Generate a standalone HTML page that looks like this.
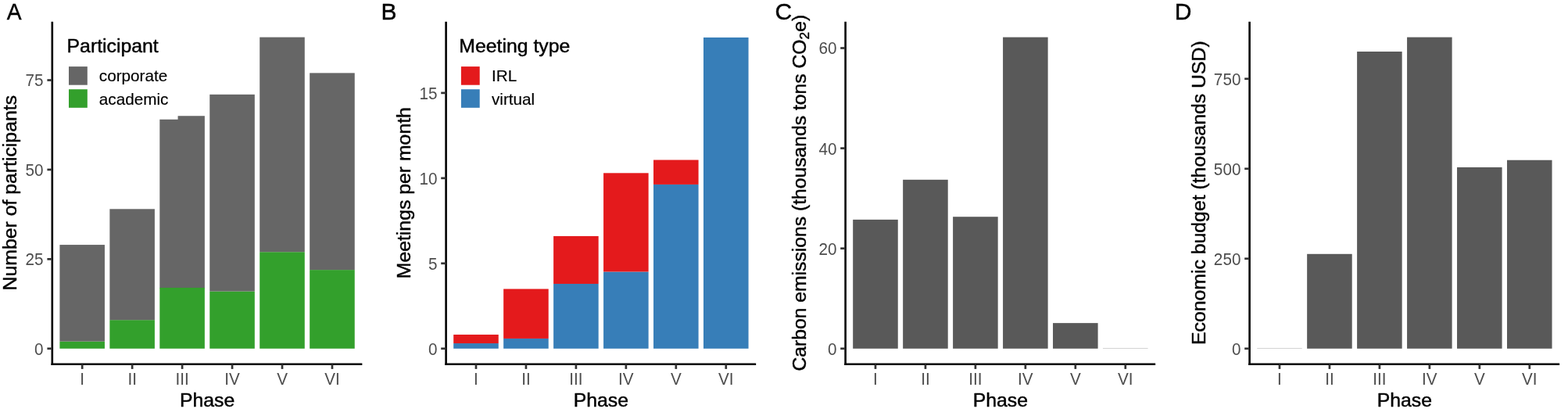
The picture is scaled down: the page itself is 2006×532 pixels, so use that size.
<!DOCTYPE html>
<html><head><meta charset="utf-8"><style>
html,body{margin:0;padding:0;background:#fff;}
svg{display:block;font-family:"Liberation Sans",Arial,Helvetica,sans-serif;}
text{stroke-linejoin:round;}
text[fill="#000"]{stroke:#000;stroke-width:0.45px;}
text[font-size="20.7"][fill="#000"]{stroke-width:0.15px;}
</style></head><body>
<svg width="2006" height="532" viewBox="0 0 2006 532">
<rect width="2006" height="532" fill="#fff"/>
<rect x="76.39" y="436.65" width="57.56" height="9.15" fill="#33A02C"/>
<rect x="76.39" y="313.07" width="57.56" height="123.58" fill="#666666"/>
<rect x="140.35" y="409.18" width="57.56" height="36.62" fill="#33A02C"/>
<rect x="140.35" y="267.30" width="57.56" height="141.89" fill="#666666"/>
<path d="M204.31,368.49 V152.87 H227.56 V148.29 H261.88 V368.49 Z" fill="#666666"/>
<rect x="204.31" y="367.99" width="57.56" height="77.81" fill="#33A02C"/>
<rect x="268.27" y="372.57" width="57.56" height="73.23" fill="#33A02C"/>
<rect x="268.27" y="120.83" width="57.56" height="251.74" fill="#666666"/>
<rect x="332.23" y="322.22" width="57.56" height="123.58" fill="#33A02C"/>
<rect x="332.23" y="47.60" width="57.56" height="274.62" fill="#666666"/>
<rect x="396.19" y="345.11" width="57.56" height="100.69" fill="#33A02C"/>
<rect x="396.19" y="93.37" width="57.56" height="251.74" fill="#666666"/>
<line x1="66.80" y1="27.70" x2="66.80" y2="467.00" stroke="#000" stroke-width="2.6" stroke-linecap="butt"/>
<line x1="65.50" y1="465.70" x2="463.35" y2="465.70" stroke="#000" stroke-width="2.6" stroke-linecap="butt"/>
<line x1="60.40" y1="445.80" x2="66.80" y2="445.80" stroke="#333333" stroke-width="2.7" stroke-linecap="butt"/>
<text font-size="20.7" fill="#4D4D4D" text-anchor="end" transform="translate(55.60,453.75) scale(1,1.03)">0</text>
<line x1="60.40" y1="331.37" x2="66.80" y2="331.37" stroke="#333333" stroke-width="2.7" stroke-linecap="butt"/>
<text font-size="20.7" fill="#4D4D4D" text-anchor="end" transform="translate(55.60,339.32) scale(1,1.03)">25</text>
<line x1="60.40" y1="216.95" x2="66.80" y2="216.95" stroke="#333333" stroke-width="2.7" stroke-linecap="butt"/>
<text font-size="20.7" fill="#4D4D4D" text-anchor="end" transform="translate(55.60,224.90) scale(1,1.03)">50</text>
<line x1="60.40" y1="102.52" x2="66.80" y2="102.52" stroke="#333333" stroke-width="2.7" stroke-linecap="butt"/>
<text font-size="20.7" fill="#4D4D4D" text-anchor="end" transform="translate(55.60,110.47) scale(1,1.03)">75</text>
<line x1="105.18" y1="465.70" x2="105.18" y2="471.90" stroke="#333333" stroke-width="2.7" stroke-linecap="butt"/>
<text font-size="20.7" fill="#4D4D4D" text-anchor="middle" transform="translate(105.18,491.75) scale(1,1.035)">I</text>
<line x1="169.14" y1="465.70" x2="169.14" y2="471.90" stroke="#333333" stroke-width="2.7" stroke-linecap="butt"/>
<text font-size="20.7" fill="#4D4D4D" text-anchor="middle" transform="translate(169.14,491.75) scale(1,1.035)">II</text>
<line x1="233.10" y1="465.70" x2="233.10" y2="471.90" stroke="#333333" stroke-width="2.7" stroke-linecap="butt"/>
<text font-size="20.7" fill="#4D4D4D" text-anchor="middle" transform="translate(233.10,491.75) scale(1,1.035)">III</text>
<line x1="297.06" y1="465.70" x2="297.06" y2="471.90" stroke="#333333" stroke-width="2.7" stroke-linecap="butt"/>
<text font-size="20.7" fill="#4D4D4D" text-anchor="middle" transform="translate(297.06,491.75) scale(1,1.035)">IV</text>
<line x1="361.02" y1="465.70" x2="361.02" y2="471.90" stroke="#333333" stroke-width="2.7" stroke-linecap="butt"/>
<text font-size="20.7" fill="#4D4D4D" text-anchor="middle" transform="translate(361.02,491.75) scale(1,1.035)">V</text>
<line x1="424.98" y1="465.70" x2="424.98" y2="471.90" stroke="#333333" stroke-width="2.7" stroke-linecap="butt"/>
<text font-size="20.7" fill="#4D4D4D" text-anchor="middle" transform="translate(424.98,491.75) scale(1,1.035)">VI</text>
<text x="265.08" y="520.00" font-size="24.8" fill="#000" text-anchor="middle" >Phase</text>
<text x="0.00" y="0.00" font-size="24.8" fill="#000" text-anchor="middle" transform="translate(21.00,246.70) rotate(-90)">Number of participants</text>
<text font-size="30" fill="#000" transform="translate(8.80,24.90) scale(0.94,1)">A</text>
<rect x="580.19" y="439.04" width="57.56" height="6.76" fill="#377EB8"/>
<rect x="580.19" y="427.93" width="57.56" height="11.12" fill="#E41A1C"/>
<rect x="644.15" y="432.94" width="57.56" height="12.86" fill="#377EB8"/>
<rect x="644.15" y="369.52" width="57.56" height="63.42" fill="#E41A1C"/>
<rect x="708.11" y="362.98" width="57.56" height="82.82" fill="#377EB8"/>
<rect x="708.11" y="301.95" width="57.56" height="61.03" fill="#E41A1C"/>
<rect x="772.07" y="347.50" width="57.56" height="98.30" fill="#377EB8"/>
<rect x="772.07" y="221.31" width="57.56" height="126.19" fill="#E41A1C"/>
<rect x="836.03" y="235.91" width="57.56" height="209.89" fill="#377EB8"/>
<rect x="836.03" y="204.53" width="57.56" height="31.39" fill="#E41A1C"/>
<rect x="899.99" y="47.93" width="57.56" height="397.87" fill="#377EB8"/>
<line x1="570.60" y1="27.70" x2="570.60" y2="467.00" stroke="#000" stroke-width="2.6" stroke-linecap="butt"/>
<line x1="569.30" y1="465.70" x2="967.15" y2="465.70" stroke="#000" stroke-width="2.6" stroke-linecap="butt"/>
<line x1="564.20" y1="445.80" x2="570.60" y2="445.80" stroke="#333333" stroke-width="2.7" stroke-linecap="butt"/>
<text font-size="20.7" fill="#4D4D4D" text-anchor="end" transform="translate(559.40,453.75) scale(1,1.03)">0</text>
<line x1="564.20" y1="336.82" x2="570.60" y2="336.82" stroke="#333333" stroke-width="2.7" stroke-linecap="butt"/>
<text font-size="20.7" fill="#4D4D4D" text-anchor="end" transform="translate(559.40,344.77) scale(1,1.03)">5</text>
<line x1="564.20" y1="227.85" x2="570.60" y2="227.85" stroke="#333333" stroke-width="2.7" stroke-linecap="butt"/>
<text font-size="20.7" fill="#4D4D4D" text-anchor="end" transform="translate(559.40,235.80) scale(1,1.03)">10</text>
<line x1="564.20" y1="118.87" x2="570.60" y2="118.87" stroke="#333333" stroke-width="2.7" stroke-linecap="butt"/>
<text font-size="20.7" fill="#4D4D4D" text-anchor="end" transform="translate(559.40,126.82) scale(1,1.03)">15</text>
<line x1="608.98" y1="465.70" x2="608.98" y2="471.90" stroke="#333333" stroke-width="2.7" stroke-linecap="butt"/>
<text font-size="20.7" fill="#4D4D4D" text-anchor="middle" transform="translate(608.98,491.75) scale(1,1.035)">I</text>
<line x1="672.94" y1="465.70" x2="672.94" y2="471.90" stroke="#333333" stroke-width="2.7" stroke-linecap="butt"/>
<text font-size="20.7" fill="#4D4D4D" text-anchor="middle" transform="translate(672.94,491.75) scale(1,1.035)">II</text>
<line x1="736.90" y1="465.70" x2="736.90" y2="471.90" stroke="#333333" stroke-width="2.7" stroke-linecap="butt"/>
<text font-size="20.7" fill="#4D4D4D" text-anchor="middle" transform="translate(736.90,491.75) scale(1,1.035)">III</text>
<line x1="800.86" y1="465.70" x2="800.86" y2="471.90" stroke="#333333" stroke-width="2.7" stroke-linecap="butt"/>
<text font-size="20.7" fill="#4D4D4D" text-anchor="middle" transform="translate(800.86,491.75) scale(1,1.035)">IV</text>
<line x1="864.82" y1="465.70" x2="864.82" y2="471.90" stroke="#333333" stroke-width="2.7" stroke-linecap="butt"/>
<text font-size="20.7" fill="#4D4D4D" text-anchor="middle" transform="translate(864.82,491.75) scale(1,1.035)">V</text>
<line x1="928.78" y1="465.70" x2="928.78" y2="471.90" stroke="#333333" stroke-width="2.7" stroke-linecap="butt"/>
<text font-size="20.7" fill="#4D4D4D" text-anchor="middle" transform="translate(928.78,491.75) scale(1,1.035)">VI</text>
<text x="768.88" y="520.00" font-size="24.8" fill="#000" text-anchor="middle" >Phase</text>
<text x="0.00" y="0.00" font-size="24.8" fill="#000" text-anchor="middle" transform="translate(525.00,246.70) rotate(-90)">Meetings per month</text>
<text x="487.40" y="24.90" font-size="30" fill="#000" text-anchor="start" >B</text>
<rect x="1091.19" y="280.87" width="57.56" height="164.93" fill="#595959"/>
<rect x="1155.15" y="229.82" width="57.56" height="215.98" fill="#595959"/>
<rect x="1219.11" y="277.22" width="57.56" height="168.58" fill="#595959"/>
<rect x="1283.07" y="47.60" width="57.56" height="398.20" fill="#595959"/>
<rect x="1347.03" y="413.13" width="57.56" height="32.67" fill="#595959"/>
<line x1="1410.99" y1="445.50" x2="1468.56" y2="445.50" stroke="#c8c8c8" stroke-width="0.8"/>
<line x1="1081.60" y1="27.70" x2="1081.60" y2="467.00" stroke="#000" stroke-width="2.6" stroke-linecap="butt"/>
<line x1="1080.30" y1="465.70" x2="1478.15" y2="465.70" stroke="#000" stroke-width="2.6" stroke-linecap="butt"/>
<line x1="1075.20" y1="445.80" x2="1081.60" y2="445.80" stroke="#333333" stroke-width="2.7" stroke-linecap="butt"/>
<text font-size="20.7" fill="#4D4D4D" text-anchor="end" transform="translate(1070.40,453.75) scale(1,1.03)">0</text>
<line x1="1075.20" y1="317.70" x2="1081.60" y2="317.70" stroke="#333333" stroke-width="2.7" stroke-linecap="butt"/>
<text font-size="20.7" fill="#4D4D4D" text-anchor="end" transform="translate(1070.40,325.65) scale(1,1.03)">20</text>
<line x1="1075.20" y1="189.60" x2="1081.60" y2="189.60" stroke="#333333" stroke-width="2.7" stroke-linecap="butt"/>
<text font-size="20.7" fill="#4D4D4D" text-anchor="end" transform="translate(1070.40,197.55) scale(1,1.03)">40</text>
<line x1="1075.20" y1="61.50" x2="1081.60" y2="61.50" stroke="#333333" stroke-width="2.7" stroke-linecap="butt"/>
<text font-size="20.7" fill="#4D4D4D" text-anchor="end" transform="translate(1070.40,69.45) scale(1,1.03)">60</text>
<line x1="1119.98" y1="465.70" x2="1119.98" y2="471.90" stroke="#333333" stroke-width="2.7" stroke-linecap="butt"/>
<text font-size="20.7" fill="#4D4D4D" text-anchor="middle" transform="translate(1119.98,491.75) scale(1,1.035)">I</text>
<line x1="1183.94" y1="465.70" x2="1183.94" y2="471.90" stroke="#333333" stroke-width="2.7" stroke-linecap="butt"/>
<text font-size="20.7" fill="#4D4D4D" text-anchor="middle" transform="translate(1183.94,491.75) scale(1,1.035)">II</text>
<line x1="1247.90" y1="465.70" x2="1247.90" y2="471.90" stroke="#333333" stroke-width="2.7" stroke-linecap="butt"/>
<text font-size="20.7" fill="#4D4D4D" text-anchor="middle" transform="translate(1247.90,491.75) scale(1,1.035)">III</text>
<line x1="1311.86" y1="465.70" x2="1311.86" y2="471.90" stroke="#333333" stroke-width="2.7" stroke-linecap="butt"/>
<text font-size="20.7" fill="#4D4D4D" text-anchor="middle" transform="translate(1311.86,491.75) scale(1,1.035)">IV</text>
<line x1="1375.82" y1="465.70" x2="1375.82" y2="471.90" stroke="#333333" stroke-width="2.7" stroke-linecap="butt"/>
<text font-size="20.7" fill="#4D4D4D" text-anchor="middle" transform="translate(1375.82,491.75) scale(1,1.035)">V</text>
<line x1="1439.78" y1="465.70" x2="1439.78" y2="471.90" stroke="#333333" stroke-width="2.7" stroke-linecap="butt"/>
<text font-size="20.7" fill="#4D4D4D" text-anchor="middle" transform="translate(1439.78,491.75) scale(1,1.035)">VI</text>
<text x="1279.88" y="520.00" font-size="24.8" fill="#000" text-anchor="middle" >Phase</text>
<text font-size="24.7" fill="#000" text-anchor="middle" transform="translate(1030.70,246.70) rotate(-90)">Carbon emissions (thousands tons CO<tspan font-size="17.36" dy="4.2">2</tspan><tspan dy="-4.2">e)</tspan></text>
<text x="991.50" y="24.90" font-size="30" fill="#000" text-anchor="start" >C</text>
<line x1="1608.19" y1="445.50" x2="1665.76" y2="445.50" stroke="#c8c8c8" stroke-width="0.8"/>
<rect x="1672.15" y="324.81" width="57.56" height="120.99" fill="#595959"/>
<rect x="1736.11" y="65.96" width="57.56" height="379.84" fill="#595959"/>
<rect x="1800.07" y="47.60" width="57.56" height="398.20" fill="#595959"/>
<rect x="1864.03" y="213.95" width="57.56" height="231.85" fill="#595959"/>
<rect x="1927.99" y="204.75" width="57.56" height="241.05" fill="#595959"/>
<line x1="1598.60" y1="27.70" x2="1598.60" y2="467.00" stroke="#000" stroke-width="2.6" stroke-linecap="butt"/>
<line x1="1597.30" y1="465.70" x2="1995.15" y2="465.70" stroke="#000" stroke-width="2.6" stroke-linecap="butt"/>
<line x1="1592.20" y1="445.80" x2="1598.60" y2="445.80" stroke="#333333" stroke-width="2.7" stroke-linecap="butt"/>
<text font-size="20.7" fill="#4D4D4D" text-anchor="end" transform="translate(1587.40,453.75) scale(1,1.03)">0</text>
<line x1="1592.20" y1="330.79" x2="1598.60" y2="330.79" stroke="#333333" stroke-width="2.7" stroke-linecap="butt"/>
<text font-size="20.7" fill="#4D4D4D" text-anchor="end" transform="translate(1587.40,338.74) scale(1,1.03)">250</text>
<line x1="1592.20" y1="215.79" x2="1598.60" y2="215.79" stroke="#333333" stroke-width="2.7" stroke-linecap="butt"/>
<text font-size="20.7" fill="#4D4D4D" text-anchor="end" transform="translate(1587.40,223.73) scale(1,1.03)">500</text>
<line x1="1592.20" y1="100.78" x2="1598.60" y2="100.78" stroke="#333333" stroke-width="2.7" stroke-linecap="butt"/>
<text font-size="20.7" fill="#4D4D4D" text-anchor="end" transform="translate(1587.40,108.73) scale(1,1.03)">750</text>
<line x1="1636.98" y1="465.70" x2="1636.98" y2="471.90" stroke="#333333" stroke-width="2.7" stroke-linecap="butt"/>
<text font-size="20.7" fill="#4D4D4D" text-anchor="middle" transform="translate(1636.98,491.75) scale(1,1.035)">I</text>
<line x1="1700.94" y1="465.70" x2="1700.94" y2="471.90" stroke="#333333" stroke-width="2.7" stroke-linecap="butt"/>
<text font-size="20.7" fill="#4D4D4D" text-anchor="middle" transform="translate(1700.94,491.75) scale(1,1.035)">II</text>
<line x1="1764.90" y1="465.70" x2="1764.90" y2="471.90" stroke="#333333" stroke-width="2.7" stroke-linecap="butt"/>
<text font-size="20.7" fill="#4D4D4D" text-anchor="middle" transform="translate(1764.90,491.75) scale(1,1.035)">III</text>
<line x1="1828.86" y1="465.70" x2="1828.86" y2="471.90" stroke="#333333" stroke-width="2.7" stroke-linecap="butt"/>
<text font-size="20.7" fill="#4D4D4D" text-anchor="middle" transform="translate(1828.86,491.75) scale(1,1.035)">IV</text>
<line x1="1892.82" y1="465.70" x2="1892.82" y2="471.90" stroke="#333333" stroke-width="2.7" stroke-linecap="butt"/>
<text font-size="20.7" fill="#4D4D4D" text-anchor="middle" transform="translate(1892.82,491.75) scale(1,1.035)">V</text>
<line x1="1956.78" y1="465.70" x2="1956.78" y2="471.90" stroke="#333333" stroke-width="2.7" stroke-linecap="butt"/>
<text font-size="20.7" fill="#4D4D4D" text-anchor="middle" transform="translate(1956.78,491.75) scale(1,1.035)">VI</text>
<text x="1796.88" y="520.00" font-size="24.8" fill="#000" text-anchor="middle" >Phase</text>
<text x="0.00" y="0.00" font-size="24.8" fill="#000" text-anchor="middle" transform="translate(1541.90,246.70) rotate(-90)">Economic budget (thousands USD)</text>
<text x="1502.70" y="24.90" font-size="30" fill="#000" text-anchor="start" >D</text>
<text x="85.55" y="67.20" font-size="24.8" fill="#000" text-anchor="start" >Participant</text>
<rect x="88.00" y="85.10" width="23.80" height="23.60" fill="#666666"/>
<text x="126.80" y="104.00" font-size="20.7" fill="#000" text-anchor="start" >corporate</text>
<rect x="88.00" y="114.20" width="23.80" height="23.60" fill="#33A02C"/>
<text x="126.80" y="133.50" font-size="20.7" fill="#000" text-anchor="start" >academic</text>
<text x="587.30" y="67.20" font-size="24.8" fill="#000" text-anchor="start" >Meeting type</text>
<rect x="589.90" y="85.10" width="23.80" height="23.60" fill="#E41A1C"/>
<text x="629.00" y="104.00" font-size="20.7" fill="#000" text-anchor="start" >IRL</text>
<rect x="589.90" y="114.20" width="23.80" height="23.60" fill="#377EB8"/>
<text x="629.00" y="133.50" font-size="20.7" fill="#000" text-anchor="start" >virtual</text>
</svg>
</body></html>
